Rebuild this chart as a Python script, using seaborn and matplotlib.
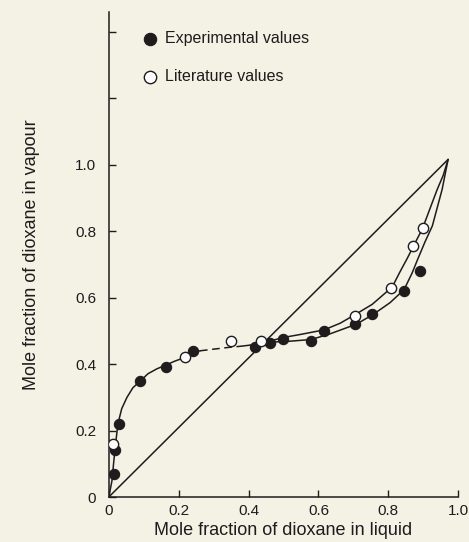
import matplotlib
matplotlib.use("Agg")
import matplotlib.pyplot as plt
import seaborn as sns

# --- data ---
exp_x = [0.014, 0.017, 0.029, 0.089, 0.163, 0.240, 0.418, 0.461, 0.499, 0.579, 0.616, 0.705, 0.754, 0.845, 0.891]
exp_y = [0.07, 0.14, 0.22, 0.35, 0.39, 0.44, 0.45, 0.465, 0.475, 0.47, 0.50, 0.52, 0.55, 0.62, 0.68]

lit_x = [0.011, 0.218, 0.350, 0.436, 0.705, 0.808, 0.871, 0.900]
lit_y = [0.16, 0.42, 0.47, 0.47, 0.545, 0.63, 0.756, 0.81]

# fitted curves
main_x = [0.0, 0.009, 0.014, 0.020, 0.026, 0.037, 0.052, 0.069, 0.092, 0.112, 0.138, 0.163, 0.189, 0.218, 0.241, 0.261]
main_y = [0.0, 0.049, 0.105, 0.165, 0.22, 0.266, 0.30, 0.329, 0.351, 0.371, 0.386, 0.397, 0.409, 0.42, 0.435, 0.440]
dash_x = [0.261, 0.30, 0.34, 0.38]
dash_y = [0.440, 0.445, 0.450, 0.454]
join_x = [0.38, 0.41, 0.438]
join_y = [0.454, 0.458, 0.463]
upper_x = [0.438, 0.499, 0.547, 0.616, 0.662, 0.705, 0.754, 0.811, 0.834, 0.854, 0.871, 0.885,
           0.897, 0.911, 0.926, 0.940, 0.957, 0.971]
upper_y = [0.463, 0.48, 0.489, 0.503, 0.523, 0.549, 0.58, 0.632, 0.679, 0.718, 0.753, 0.782,
           0.806, 0.845, 0.887, 0.926, 0.968, 1.016]
lower_x = [0.438, 0.461, 0.519, 0.579, 0.633, 0.708, 0.756, 0.805, 0.845, 0.868, 0.885, 0.905,
           0.926, 0.940, 0.954, 0.971]
lower_y = [0.463, 0.466, 0.469, 0.474, 0.491, 0.52, 0.549, 0.585, 0.624, 0.674, 0.718, 0.768,
           0.816, 0.871, 0.926, 1.016]
diag_x = [0.0, 0.971]
diag_y = [0.0, 1.016]

xticks = [0, 0.2, 0.4, 0.6, 0.8, 1.0]
xticklabels = ["0", "0.2", "0.4", "0.6", "0.8", "1.0"]
yticks = [0, 0.2, 0.4, 0.6, 0.8, 1.0, 1.2, 1.4]
yticklabels = ["0", "0.2", "0.4", "0.6", "0.8", "1.0", "", ""]

sns.set_theme(style="ticks")
plt.rcParams["font.family"] = ["Liberation Sans", "DejaVu Sans"]

bg = "#f4f1e5"
ink = "#1e1c1c"

fig = plt.figure(figsize=(4.69, 5.42), dpi=100, facecolor=bg)
ax = fig.add_axes([0.232, 0.083, 0.745, 0.895])
ax.set_facecolor(bg)

def line(xs, ys, **kw):
    sns.lineplot(x=xs, y=ys, ax=ax, sort=False, estimator=None, color=ink, lw=1.1, **kw)

line(diag_x, diag_y)
line(main_x, main_y)
line(dash_x, dash_y, linestyle=(0, (5, 3)))
line(join_x, join_y)
line(upper_x, upper_y)
line(lower_x, lower_y)
for l in ax.lines:
    l.set_solid_joinstyle("round")

sns.scatterplot(x=exp_x, y=exp_y, ax=ax, s=55, color=ink, edgecolor=ink, linewidth=0.8,
                label="Experimental values", zorder=5)
sns.scatterplot(x=lit_x, y=lit_y, ax=ax, s=55, facecolor="white", edgecolor=ink, linewidth=1.0,
                label="Literature values", zorder=5)

ax.set_xlim(0, 1.0)
ax.set_ylim(0, 1.46)
ax.set_xticks(xticks)
ax.set_xticklabels(xticklabels)
ax.set_yticks(yticks)
ax.set_yticklabels(yticklabels)
ax.tick_params(direction="in", length=5, width=1, colors=ink, labelsize=11)
ax.tick_params(axis="y", pad=9)
ax.tick_params(axis="x", pad=5)
for s in ["top", "right"]:
    ax.spines[s].set_visible(False)
for s in ["left", "bottom"]:
    ax.spines[s].set_color(ink)
    ax.spines[s].set_linewidth(1.1)

ax.set_xlabel("Mole fraction of dioxane in liquid", fontsize=13, color=ink, labelpad=3)
ax.set_ylabel("Mole fraction of dioxane in vapour", fontsize=13, color=ink, labelpad=25)

leg = ax.legend(loc="upper left", bbox_to_anchor=(0.05, 0.99), frameon=False, fontsize=11.5,
                labelspacing=1.45, handletextpad=0.3, handlelength=1.2, markerscale=1.2)
for t in leg.get_texts():
    t.set_color(ink)

fig.savefig("out.png", dpi=100, facecolor=bg)
